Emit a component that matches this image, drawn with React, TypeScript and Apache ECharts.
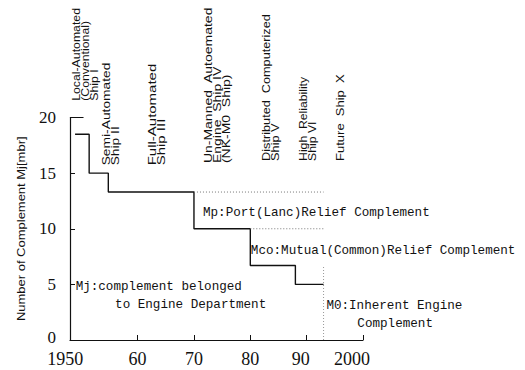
import React, { useEffect, useRef } from 'react';
import * as echarts from 'echarts';

// Mj: complement belonged to engine department (stepped)
const stepYears = [1948.9, 1951.4, 1954.8, 1970, 1980, 1988, 1993];
const stepValues = [18.5, 15, 13.3, 10, 6.7, 5, 5];
// conventional ship top mark
const topYears = [1948, 1950.4];
const topValues = [20, 20];
// Mp: port relief level (dotted)
const mpYears = [1970, 1993];
const mpValues = [13.3, 13.3];
// Mco: mutual relief level (dotted)
const mcoYears = [1980, 1993];
const mcoValues = [10, 10];
// M0 divider (dotted)
const m0Years = [1993, 1993];
const m0Values = [0, 6.7];

const xTickValues = [1950, 1960, 1970, 1980, 1990, 2000];
const xTickLabels = ['1950', '60', '70', '80', '90', '2000'];
const xInnerTicks = [1960, 1970, 1980, 1990, 2000];

const shipLabels = [
  'Local-Automated\n(Conventional)\nShip I',
  'Semi-Automated\nShip II',
  'Full-Automated\nShip III',
  'Un-Manned  Autoemated\nEngine  Ship IV\n(NK-M0  Ship)',
  'Distributed  Computerized\nShip V',
  'High  Reliability\nShip VI',
  'Future  Ship  X',
];
const shipYears = [1948.3, 1953.7, 1961.8, 1971.8, 1982.1, 1988.6, 1995.2];
const shipValues = [21.5, 15.7, 15.7, 15.9, 16.1, 16.1, 16.1];

const noteTexts = [
  'Mp:Port(Lanc)Relief Complement',
  'Mco:Mutual(Common)Relief Complement',
  'Mj:complement belonged',
  'to Engine Department',
  'M0:Inherent Engine',
  'Complement',
];
const noteYears = [1971.6, 1980.1, 1949.0, 1956.0, 1993.5, 1999.0];
const noteValues = [11.4, 8.0, 4.75, 3.15, 3.05, 1.45];

const yAxisTitle = 'Number of Complement Mj[mbr]';

// text stretch along the reading direction for each rotated label (style only)
const shipStretch = [1.23, 1.38, 1.5, 1.4, 1.27, 1.22, 1.3];

export default function App() {
  const ref = useRef<HTMLDivElement>(null);
  useEffect(() => {
    const chart = echarts.init(ref.current as HTMLDivElement, null, { renderer: 'svg' });
    const pair = (xs: number[], ys: number[]) => xs.map((x, i) => [x, ys[i]]);
    const black = '#111';
    const serif = "'Liberation Serif', 'DejaVu Serif', serif";
    const mono = "'Liberation Mono', 'DejaVu Sans Mono', monospace";
    const sans = "'Liberation Sans', Arial, sans-serif";
    const numStyle = { fontFamily: serif, fontSize: 18, color: black };
    const yNumStyle = { fontFamily: serif, fontSize: 17, color: black };
    chart.setOption({
      animation: false,
      backgroundColor: '#fff',
      grid: { left: 70, right: 162, top: 117.5, bottom: 30, containLabel: false, outerBoundsMode: 'none' },
      xAxis: {
        type: 'value',
        min: 1948,
        max: 2000,
        axisLine: { show: true, lineStyle: { color: black, width: 1.2 } },
        axisTick: { show: true, inside: true, length: 5, customValues: xInnerTicks, lineStyle: { color: black } },
        axisLabel: {
          customValues: xTickValues,
          margin: 10,
          ...numStyle,
          formatter: (v: number) => {
            const t = xTickLabels[xTickValues.indexOf(v)] ?? '';
            if (v === 1950) return '{a|' + t + '}';
            if (v === 1990) return '{c|' + t + '}';
            if (v === 2000) return '{b|' + t + '}';
            return t;
          },
          rich: {
            a: { ...numStyle, padding: [0, 32, 0, 0] },
            b: { ...numStyle, padding: [0, 22, 0, 0] },
            c: { ...numStyle, padding: [0, 12, 0, 0] },
          },
        },
        splitLine: { show: false },
      },
      yAxis: {
        type: 'value',
        min: 0,
        max: 20,
        interval: 5,
        axisLine: { show: true, lineStyle: { color: black, width: 1.2 } },
        axisTick: { show: true, inside: true, length: 5, lineStyle: { color: black } },
        axisLabel: {
          margin: 14,
          ...yNumStyle,
          formatter: (v: number) => (v === 0 ? '{z|0}' : String(v)),
          rich: { z: { ...yNumStyle, lineHeight: 14, padding: [0, 0, 6, 0] } },
        },
        splitLine: { show: false },
      },
      series: [
        { type: 'line', data: pair(stepYears, stepValues), step: 'end', symbol: 'none', silent: true, lineStyle: { color: black, width: 1.4 } },
        { type: 'line', data: pair(topYears, topValues), symbol: 'none', silent: true, lineStyle: { color: black, width: 1.2 } },
        { type: 'line', data: pair(mpYears, mpValues), symbol: 'none', silent: true, lineStyle: { color: '#777', width: 1, type: [1, 2] } },
        { type: 'line', data: pair(mcoYears, mcoValues), symbol: 'none', silent: true, lineStyle: { color: '#777', width: 1, type: [1, 2] } },
        { type: 'line', data: pair(m0Years, m0Values), symbol: 'none', silent: true, lineStyle: { color: '#999', width: 1, type: [1, 2] } },
      ],
    });

    const graphics: any[] = [];
    shipLabels.forEach((t, i) => {
      const p = chart.convertToPixel({ gridIndex: 0 }, [shipYears[i], shipValues[i]]) as number[];
      graphics.push({
        type: 'text', x: p[0], y: p[1], rotation: Math.PI / 2, scaleX: shipStretch[i], silent: true,
        style: { text: t, fontSize: 10, lineHeight: 9, fontFamily: sans, fill: black, align: 'left', verticalAlign: 'top' },
      });
    });
    noteTexts.forEach((t, i) => {
      const p = chart.convertToPixel({ gridIndex: 0 }, [noteYears[i], noteValues[i]]) as number[];
      graphics.push({
        type: 'text', x: p[0], y: p[1], silent: true,
        style: { text: t, fontSize: 12.6, fontFamily: mono, fill: black, align: 'left', verticalAlign: 'middle' },
      });
    });
    const c = chart.convertToPixel({ gridIndex: 0 }, [1948, 10]) as number[];
    graphics.push({
      type: 'text', x: c[0] - 48, y: c[1], rotation: Math.PI / 2, scaleX: 1.3, silent: true,
      style: { text: yAxisTitle, fontSize: 10, fontFamily: sans, fill: black, align: 'center', verticalAlign: 'middle' },
    });
    chart.setOption({ graphic: graphics });

    return () => chart.dispose();
  }, []);
  return (
    <div
      ref={ref}
      style={{ position: 'absolute', left: 0, top: 0, width: 525, height: 370, background: '#fff' }}
    />
  );
}
